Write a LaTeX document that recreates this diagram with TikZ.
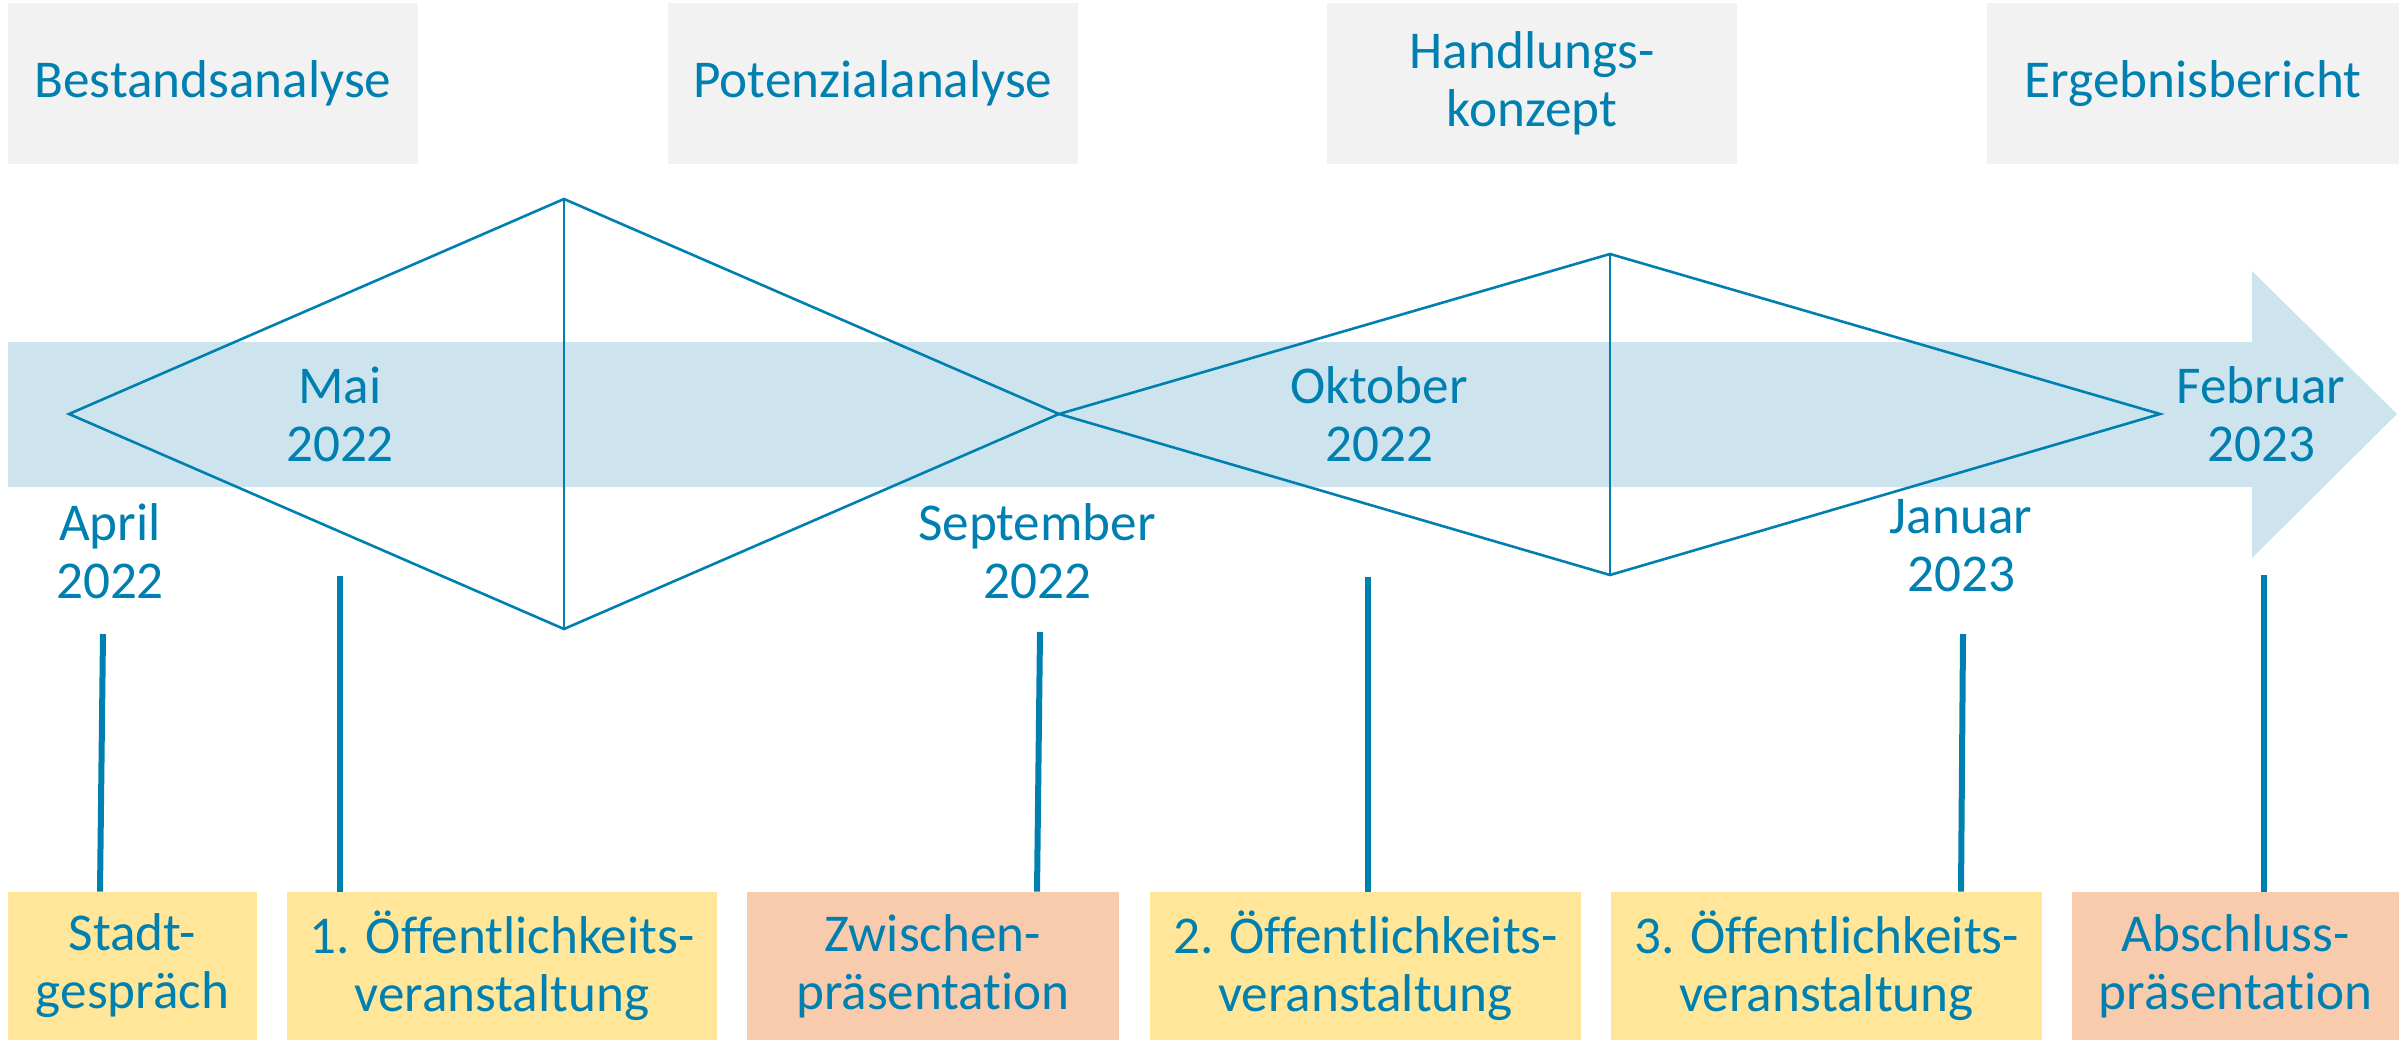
\documentclass[tikz,border=0pt]{standalone}
\usepackage{fontspec}
\setmainfont{Carlito}[Ligatures={NoCommon}]
\definecolor{tblue}{RGB}{0,128,176}
\definecolor{lblue}{RGB}{205,228,238}
\definecolor{grey}{RGB}{242,242,242}
\definecolor{yel}{RGB}{255,230,153}
\definecolor{ora}{RGB}{248,203,173}
\begin{document}
\begin{tikzpicture}[x=0.5pt,y=-0.5pt,
  txt/.style={text=tblue,font=\fontsize{26.6pt}{29pt}\selectfont,align=center,inner sep=0pt},
  topbox/.style={txt,fill=grey,minimum width=205pt,minimum height=80.5pt},
  botbox/.style={txt,minimum height=74pt},
  ybox/.style={botbox,fill=yel},
  obox/.style={botbox,fill=ora},
  thinline/.style={draw=tblue,line width=1.3pt,line join=miter},
  conn/.style={draw=tblue,line width=3pt}]
\useasboundingbox (0,0) rectangle (2402,1043);
% top boxes
\node[topbox] (b1) at (213,83.5) {Bestandsanalyse};
\node[topbox] (b2) at (873,83.5) {Potenzialanalyse};
\node[topbox] (b3) at (1532,83.5) {Handlungs-\\konzept};
\node[topbox,minimum width=206pt] (b4) at (2193,83.5) {Ergebnisbericht};
% arrow band
\fill[lblue] (8,342) -- (2252,342) -- (2252,271) -- (2397,414) -- (2252,558) -- (2252,487) -- (8,487) -- cycle;
% diamonds
\coordinate (L1) at (69,414);
\coordinate (T1) at (564,199);
\coordinate (B1) at (564,629);
\coordinate (M) at (1059,414);
\coordinate (T2) at (1610,254);
\coordinate (B2) at (1610,575);
\coordinate (R2) at (2160,414);
\draw[thinline] (L1) -- (T1) -- (M) -- (B1) -- cycle;
\draw[thinline] (T1) -- (B1);
\draw[thinline] (M) -- (T2) -- (R2) -- (B2) -- cycle;
\draw[thinline] (T2) -- (B2);
% date labels
\node[txt] (dApr) at (110,551) {April\\2022};
\node[txt] (dMai) at (340,414) {Mai\\2022};
\node[txt] (dSep) at (1037,551) {September\\2022};
\node[txt] (dOkt) at (1379,414) {Oktober\\2022};
\node[txt] (dJan) at (1961,546) {Januar\\2023};
\node[txt] (dFeb) at (2261,414) {Februar\\2023};
% bottom boxes
\node[ybox,minimum width=124.5pt] (e1) at (132.5,966) {Stadt-\\gespräch};
\node[ybox,minimum width=215pt] (e2) at (502,966) {1. Öffentlichkeits-\\veranstaltung};
\node[obox,minimum width=186pt] (e3) at (933,966) {Zwischen-\\präsentation};
\node[ybox,minimum width=215.5pt] (e4) at (1365.5,966) {2. Öffentlichkeits-\\veranstaltung};
\node[ybox,minimum width=215.5pt] (e5) at (1826.5,966) {3. Öffentlichkeits-\\veranstaltung};
\node[obox,minimum width=163.5pt] (e6) at (2235.5,966) {Abschluss-\\präsentation};
% connectors
\coordinate (c1) at (103,634);
\coordinate (c2) at (340,576);
\coordinate (c3) at (1040,632);
\coordinate (c4) at (1368,577);
\coordinate (c5) at (1963,634);
\coordinate (c6) at (2264,575);
\draw[conn] (c1) -- ([xshift=-1.5pt]c1 |- e1.north);
\draw[conn] (c2) -- (c2 |- e2.north);
\draw[conn] (c3) -- ([xshift=-1.5pt]c3 |- e3.north);
\draw[conn] (c4) -- (c4 |- e4.north);
\draw[conn] (c5) -- ([xshift=-1pt]c5 |- e5.north);
\draw[conn] (c6) -- (c6 |- e6.north);
\end{tikzpicture}
\end{document}
